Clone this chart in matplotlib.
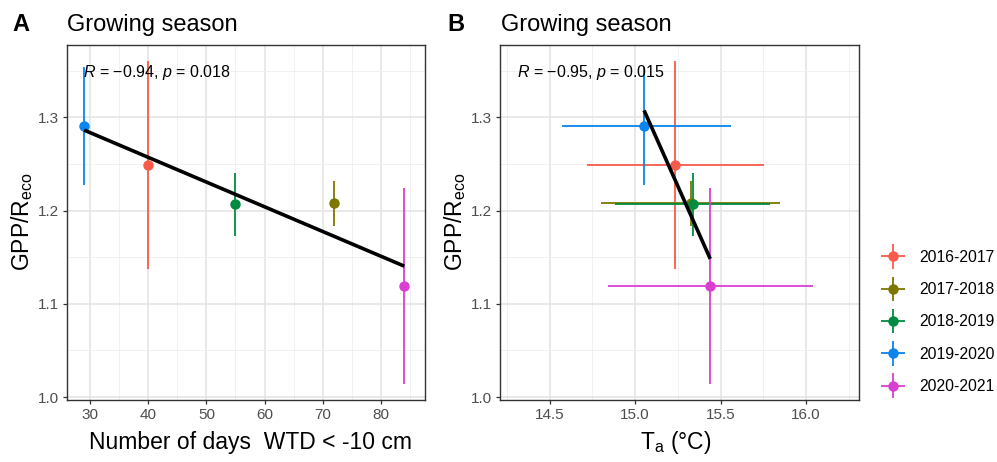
import numpy as np
import matplotlib
matplotlib.use("Agg")
import matplotlib.pyplot as plt
from matplotlib.legend_handler import HandlerErrorbar
from matplotlib.container import ErrorbarContainer

plt.rcParams['font.family'] = ['Liberation Sans', 'DejaVu Sans']
plt.rcParams['mathtext.fontset'] = 'custom'
plt.rcParams['mathtext.rm'] = 'Liberation Sans'
plt.rcParams['mathtext.it'] = 'Liberation Sans:italic'

# data
seasons = ['2016-2017', '2017-2018', '2018-2019', '2019-2020', '2020-2021']
colors = ['#FA5A4A', '#7E7600', '#008C40', '#0A84EE', '#D940D2']

ratio = [1.249, 1.208, 1.2065, 1.2905, 1.119]
ratio_lo = [1.137, 1.1836, 1.1726, 1.227, 1.014]
ratio_hi = [1.360, 1.2315, 1.240, 1.354, 1.2243]

wtd_days = [40, 72, 55, 29, 84]

ta = [15.234, 15.326, 15.339, 15.053, 15.44]
ta_lo = [14.72, 14.80, 14.88, 14.572, 14.84]
ta_hi = [15.757, 15.847, 15.79, 15.56, 16.04]

r_text = ['$R$ = \u22120.94, $p$ = 0.018', '$R$ = \u22120.95, $p$ = 0.015']

W, H = 997, 462
fig = plt.figure(figsize=(W / 100, H / 100), dpi=100)

def px_axes(l, t, r, b):
    return fig.add_axes([l / W, 1 - b / H, (r - l) / W, (b - t) / H])

ax1 = px_axes(67, 45, 425, 400)
ax2 = px_axes(500, 45, 859, 400)

ratio = np.array(ratio)
yerr = [ratio - np.array(ratio_lo), np.array(ratio_hi) - ratio]
ta_arr = np.array(ta)
xerr = [ta_arr - np.array(ta_lo), np.array(ta_hi) - ta_arr]

for i in range(len(seasons)):
    ax1.errorbar(wtd_days[i], ratio[i], yerr=[[yerr[0][i]], [yerr[1][i]]],
                 fmt='o', color=colors[i], ms=6.5, elinewidth=1.3, capsize=0, zorder=3)
    ax2.errorbar(ta[i], ratio[i], yerr=[[yerr[0][i]], [yerr[1][i]]],
                 xerr=[[xerr[0][i]], [xerr[1][i]]],
                 fmt='o', color=colors[i], ms=6.5, elinewidth=1.3, capsize=0,
                 zorder=3, label=seasons[i])

# linear fits
for ax, x in [(ax1, np.array(wtd_days)), (ax2, ta_arr)]:
    k, b = np.polyfit(x, ratio, 1)
    xs = np.array([x.min(), x.max()])
    ax.plot(xs, k * xs + b, color='black', lw=2.6, zorder=4, solid_capstyle='butt')

ax1.set_xlim(26.05, 87.56)
ax1.set_xticks([30, 40, 50, 60, 70, 80])
ax1.set_xticks([35, 45, 55, 65, 75, 85], minor=True)
ax2.set_xlim(14.21, 16.31)
ax2.set_xticks([14.5, 15.0, 15.5, 16.0])
ax2.set_xticklabels(['14.5', '15.0', '15.5', '16.0'])
ax2.set_xticks([14.25, 14.75, 15.25, 15.75, 16.25], minor=True)

for ax in (ax1, ax2):
    ax.set_ylim(0.9968, 1.3775)
    ax.set_yticks([1.0, 1.1, 1.2, 1.3])
    ax.set_yticks([1.05, 1.15, 1.25, 1.35], minor=True)
    ax.grid(True, which='major', color='#E3E3E3', lw=1.1, zorder=0)
    ax.grid(True, which='minor', color='#EFEFEF', lw=0.6, zorder=0)
    ax.set_axisbelow(True)
    for s in ax.spines.values():
        s.set_color('#333333')
        s.set_linewidth(1.0)
    ax.tick_params(which='major', length=3, width=0.9, color='#333333',
                   labelsize=11, labelcolor='#4D4D4D', pad=3)
    ax.tick_params(which='minor', length=0)

ax1.text(28.8, 1.3476, r_text[0], fontsize=11.5, va='center', ha='left', zorder=5)
ax2.text(14.31, 1.3476, r_text[1], fontsize=11.5, va='center', ha='left', zorder=5)

# panel letters and titles
fig.text(12 / W, 1 - 31 / H, 'A', fontsize=17, fontweight='bold', va='baseline')
fig.text(67 / W, 1 - 31 / H, 'Growing season', fontsize=17, va='baseline')
fig.text(447 / W, 1 - 31 / H, 'B', fontsize=17, fontweight='bold', va='baseline')
fig.text(501 / W, 1 - 31 / H, 'Growing season', fontsize=17, va='baseline')

# axis labels
fig.text(22 / W, 1 - 222 / H, 'GPP/R$_{\\mathrm{eco}}$', fontsize=16.5,
         rotation=90, ha='center', va='center')
fig.text(455 / W, 1 - 222 / H, 'GPP/R$_{\\mathrm{eco}}$', fontsize=16.5,
         rotation=90, ha='center', va='center')
fig.text(250 / W, 1 - 443 / H, 'Number of days  WTD < -10 cm', fontsize=16.5,
         ha='center', va='center')
fig.text(676 / W, 1 - 443 / H, 'T$_{\\mathrm{a}}$ (\u00b0C)', fontsize=16.5,
         ha='center', va='center')

handles, labels = ax2.get_legend_handles_labels()
fig.legend(handles, labels, loc='center left', bbox_to_anchor=(875 / W, 1 - 322 / H),
           frameon=False, fontsize=11.3, handlelength=1.5, handletextpad=0.95,
           labelspacing=1.1, borderaxespad=0,
           handler_map={ErrorbarContainer: HandlerErrorbar(xerr_size=0.75, yerr_size=0.78)})

fig.savefig('out.png', dpi=100)
